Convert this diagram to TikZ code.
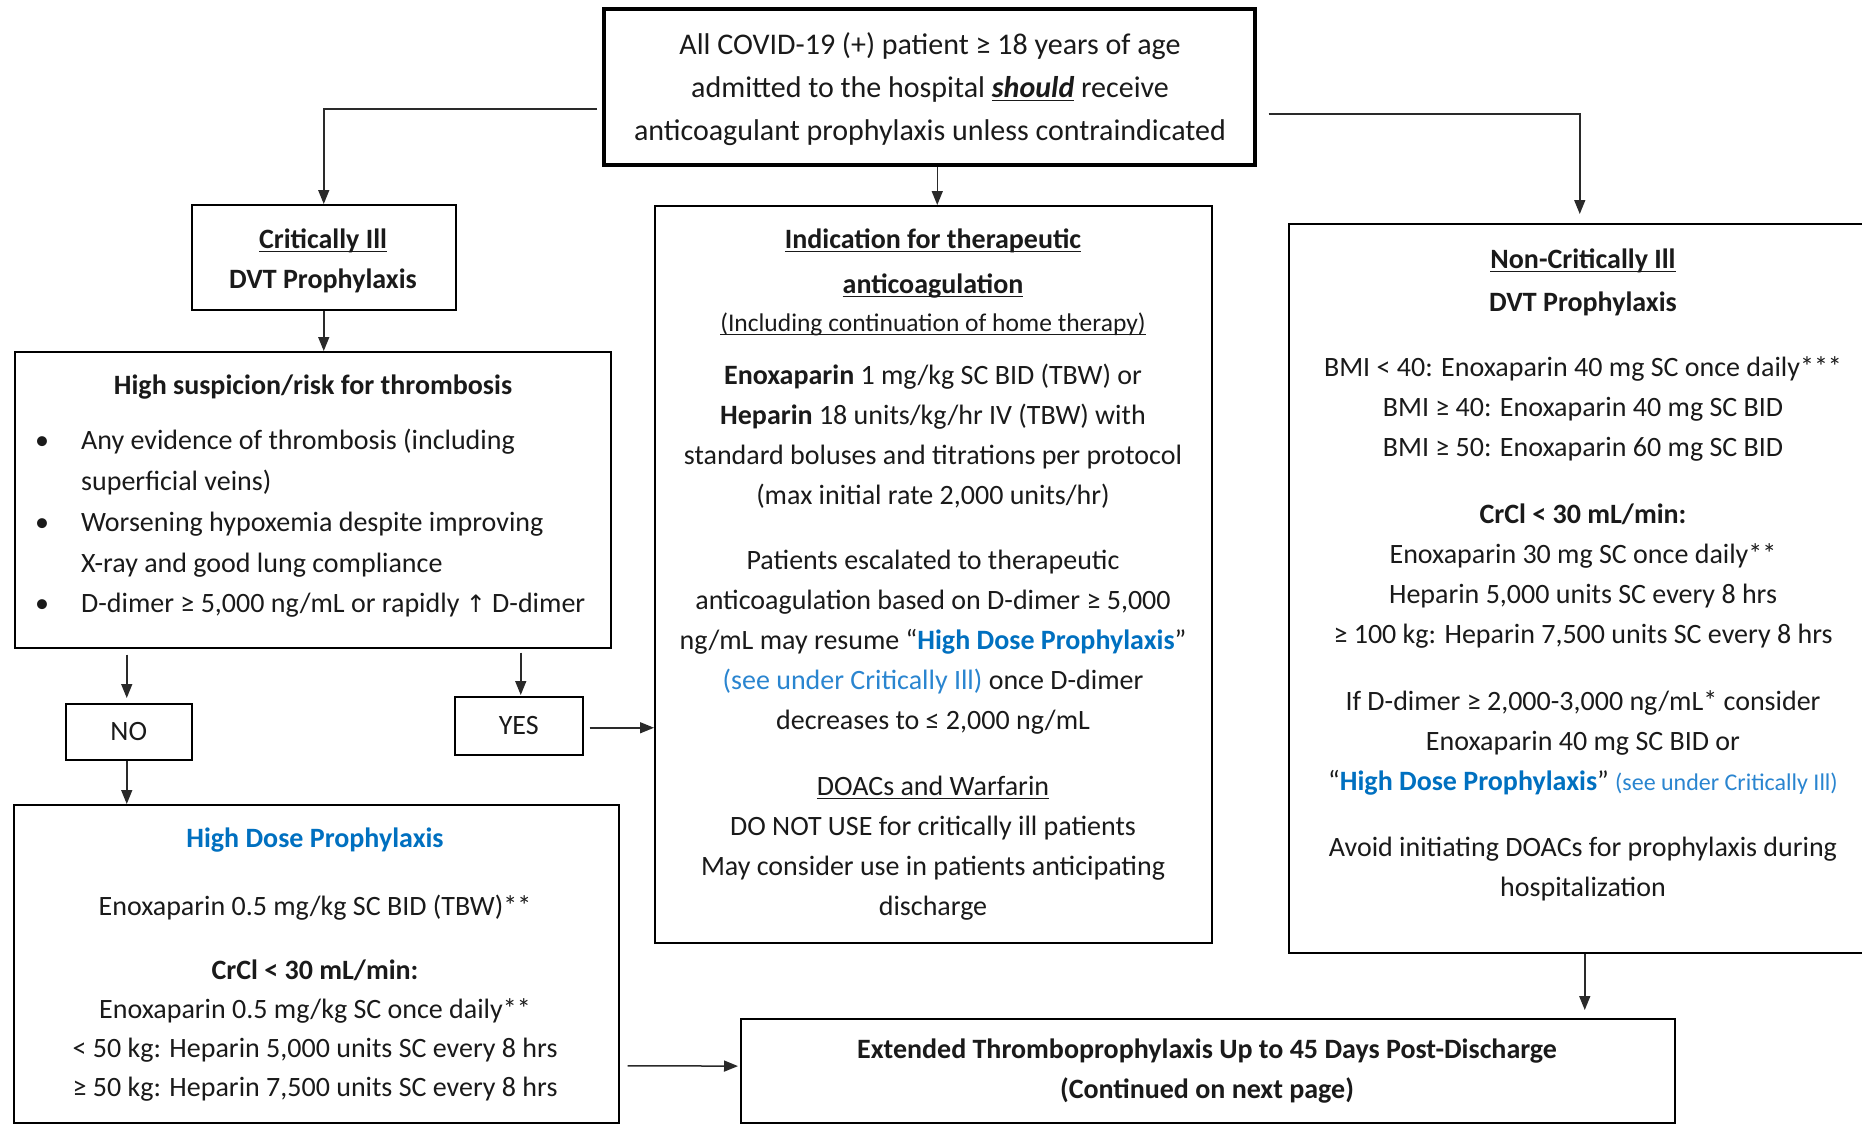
\documentclass[tikz,border=0pt]{standalone}
\usepackage{fontspec}
\setmainfont{Carlito}
\newfontfamily\symfont{DejaVu Sans}
\usetikzlibrary{arrows.meta,calc}
\definecolor{hdblue}{HTML}{0070C0}
\definecolor{ltblue}{HTML}{2A85D0}
\definecolor{txtc}{HTML}{1A1A1A}
\definecolor{linec}{HTML}{2A2A2A}
\newsavebox\ulbox
\newcommand{\myul}[1]{\sbox\ulbox{#1}\rlap{\rule[-4pt]{\wd\ulbox}{1.6pt}}\usebox\ulbox}
\newcommand{\hdp}[1]{\textcolor{hdblue}{\textbf{#1}}}
\newcommand{\lblue}[1]{\textcolor{ltblue}{#1}}
\tikzset{
  box/.style={draw=black, line width=1.5pt, inner sep=0pt, anchor=north west},
  body/.style={inner sep=0pt, align=center, text=txtc, anchor=north, font=\fontsize{28}{40}\selectfont},
  arr/.style={draw=linec, line width=1.5pt, -{Triangle[length=14pt,width=11pt]}},
}
\begin{document}
\begin{tikzpicture}[x=1pt,y=-1pt]
\useasboundingbox[fill=white] (0,0) rectangle (1862,1127);

% boxes
\node[box, line width=3.5pt, minimum width=651pt, minimum height=156pt] (top) at (602,7) {};
\node[box, minimum width=264pt, minimum height=105pt] (crit) at (191,204) {};
\node[box, minimum width=596pt, minimum height=296pt] (susp) at (14,351) {};
\node[box, minimum width=126pt, minimum height=56pt, text=txtc, font=\fontsize{28}{40}\selectfont] (no) at (65,703) {NO};
\node[box, minimum width=128pt, minimum height=58pt, text=txtc, font=\fontsize{28}{40}\selectfont] (yes) at (454,696) {YES};
\node[box, minimum width=557pt, minimum height=737pt] (ind) at (654,205) {};
\node[box, minimum width=592pt, minimum height=729pt] (noncrit) at (1288,223) {};
\node[box, minimum width=605pt, minimum height=318pt] (hd) at (13,804) {};
\node[box, line width=2.2pt, minimum width=934pt, minimum height=104pt] (ext) at (740,1018) {};

% top text
\node[body, font=\fontsize{30}{43}\selectfont] (toptxt) at (930,24) {\strut All COVID-19 (+) patient ≥ 18 years of age\\
admitted to the hospital \myul{\textbf{\textit{should}}} receive\\
anticoagulant prophylaxis unless contraindicated};

% critically ill
\node[body] (crittxt) at (323,220) {\strut\myul{\textbf{Critically Ill}}\\ \textbf{DVT Prophylaxis}};

% high suspicion
\node[body] (susph) at (313,366) {\strut\textbf{High suspicion/risk for thrombosis}};
\node[body, anchor=north west] (suspl) at (35,421) {\renewcommand{\arraystretch}{1.02}%
\begin{tabular}{@{}p{46pt}@{}l@{}}
\textbullet & Any evidence of thrombosis (including\\
 & superficial veins)\\
\textbullet & Worsening hypoxemia despite improving\\
 & X-ray and good lung compliance\\
\textbullet & D-dimer ≥ 5,000 ng/mL or rapidly {\symfont\fontsize{24}{40}\selectfont ↑} D-dimer
\end{tabular}};

% indication
\node[body] (indh) at (933,220) {\strut\myul{\textbf{Indication for therapeutic}}\\[5pt] \myul{\textbf{anticoagulation}}};
\node[body, font=\fontsize{25.5}{36}\selectfont] (indsub) at (933,306) {\strut\myul{(Including continuation of home therapy)}};
\node[body] (ind1) at (933,356) {\strut\textbf{Enoxaparin} 1 mg/kg SC BID (TBW) or\\
\textbf{Heparin} 18 units/kg/hr IV (TBW) with\\
standard boluses and titrations per protocol\\
(max initial rate 2,000 units/hr)};
\node[body] (ind2) at (933,541) {\strut Patients escalated to therapeutic\\
anticoagulation based on D-dimer ≥ 5,000\\
ng/mL may resume “\hdp{High Dose Prophylaxis}”\\
\lblue{(see under Critically Ill)} once D-dimer\\
decreases to ≤ 2,000 ng/mL};
\node[body] (ind3) at (933,767) {\strut\myul{DOACs and Warfarin}\\
DO NOT USE for critically ill patients\\
May consider use in patients anticipating\\
discharge};

% non-critically ill
\node[body] (nch) at (1583,240) {\strut\myul{\textbf{Non-Critically Ill}}\\[3pt] \textbf{DVT Prophylaxis}};
\node[body] (nc1) at (1583,348) {\strut BMI < 40: Enoxaparin 40 mg SC once daily***\\
BMI ≥ 40: Enoxaparin 40 mg SC BID\\
BMI ≥ 50: Enoxaparin 60 mg SC BID};
\node[body] (nc2) at (1583,495) {\strut\textbf{CrCl < 30 mL/min:}\\
Enoxaparin 30 mg SC once daily**\\
Heparin 5,000 units SC every 8 hrs\\
≥ 100 kg: Heparin 7,500 units SC every 8 hrs};
\node[body] (nc3) at (1583,682) {\strut If D-dimer ≥ 2,000-3,000 ng/mL* consider\\
Enoxaparin 40 mg SC BID or\\
“\hdp{High Dose Prophylaxis}” {\fontsize{24}{40}\selectfont\lblue{(see under Critically Ill)}}};
\node[body] (nc4) at (1583,828) {\strut Avoid initiating DOACs for prophylaxis during\\
hospitalization};

% high dose
\node[body] (hdh) at (315,819) {\strut\hdp{High Dose Prophylaxis}};
\node[body] (hd1) at (315,887) {\strut Enoxaparin 0.5 mg/kg SC BID (TBW)**};
\node[body, font=\fontsize{28}{39}\selectfont] (hd2) at (315,952) {\strut\textbf{CrCl < 30 mL/min:}\\
Enoxaparin 0.5 mg/kg SC once daily**\\
< 50 kg: Heparin 5,000 units SC every 8 hrs\\
≥ 50 kg: Heparin 7,500 units SC every 8 hrs};

% extended
\node[body] (exttxt) at (1207,1030) {\strut\textbf{Extended Thromboprophylaxis Up to 45 Days Post-Discharge}\\
\textbf{(Continued on next page)}};

% connectors
\draw[arr] ([xshift=-5pt,yshift=-22pt]top.west) -| (crit.north);
\draw[arr] ([xshift=12pt,yshift=-27pt]top.east) -| ([xshift=-5pt,yshift=9pt]noncrit.north);
\draw[arr] ($(ind.north |- top.south)+(4,0)$) -- ($(ind.north)+(4,0)$);
\draw[arr] (crit.south) -- (crit.south |- susp.north);
\draw[arr] ($(susp.south -| no.north)+(-2,6)$) -- ($(no.north)+(-2,-5)$);
\draw[arr] ($(susp.south -| yes.north)+(2,4)$) -- ($(yes.north)+(2,-1)$);
\draw[arr] ($(yes.east)+(6,2)$) -- ($(ind.west |- yes.east)+(0,2)$);
\draw[arr] ($(no.south)+(-2,0)$) -- ($(no.south |- hd.north)+(-2,0)$);
\draw[arr] ($(hd.east)+(8,102)$) -- ($(ext.west)+(-2,-5)$);
\draw[arr] (noncrit.south) -- ($(noncrit.south |- ext.north)+(0,-8)$);
\end{tikzpicture}
\end{document}
